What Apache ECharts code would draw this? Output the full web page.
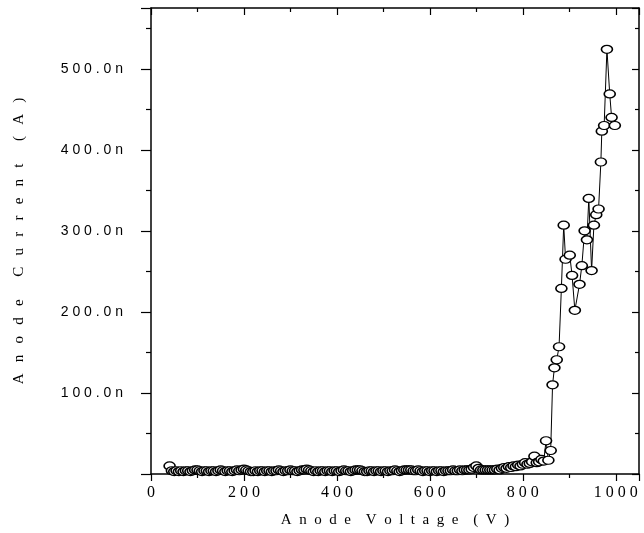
<!DOCTYPE html>
<html>
<head>
<meta charset="utf-8">
<script src="https://cdn.jsdelivr.net/npm/echarts@6/dist/echarts.min.js"></script>
<style>
  html, body { margin: 0; padding: 0; background: #fff; }
  #chart { width: 644px; height: 533px; }
</style>
</head>
<body>
<div id="chart"></div>
<script>
// anode voltage (V)
var voltage = [
    40, 45, 50, 55, 60, 65, 70, 75, 80, 85,
    90, 95, 100, 105, 110, 115, 120, 125, 130, 135,
    140, 145, 150, 155, 160, 165, 170, 175, 180, 185,
    190, 195, 200, 205, 210, 215, 220, 225, 230, 235,
    240, 245, 250, 255, 260, 265, 270, 275, 280, 285,
    290, 295, 300, 305, 310, 315, 320, 325, 330, 335,
    340, 345, 350, 355, 360, 365, 370, 375, 380, 385,
    390, 395, 400, 405, 410, 415, 420, 425, 430, 435,
    440, 445, 450, 455, 460, 465, 470, 475, 480, 485,
    490, 495, 500, 505, 510, 515, 520, 525, 530, 535,
    540, 545, 550, 555, 560, 565, 570, 575, 580, 585,
    590, 595, 600, 605, 610, 615, 620, 625, 630, 635,
    640, 645, 650, 655, 660, 665, 670, 675, 680, 685,
    690, 695, 700, 705, 710, 715, 720, 725, 730, 735,
    740, 745, 750, 755, 760, 765, 770, 775, 780, 785,
    790, 795, 800, 805, 810, 815, 820, 825, 830, 835,
    840, 845,
    850, 855, 860, 864, 868, 873, 878, 883, 888, 892,
    901, 906, 912, 922, 927, 933, 938, 942, 948, 953,
    958, 963, 968, 970, 975, 981, 987, 991, 998
];

// anode current (nA)
var current = [
    10, 4, 3, 4, 3, 4, 3, 4, 4, 3,
    4, 5, 5, 4, 3, 4, 4, 3, 4, 4,
    3, 4, 5, 4, 3, 4, 4, 3, 4, 5,
    4, 5, 6, 5, 4, 3, 3, 4, 3, 4,
    4, 3, 4, 4, 3, 4, 4, 5, 4, 3,
    4, 4, 5, 4, 4, 3, 4, 5, 5, 6,
    5, 4, 3, 4, 3, 4, 4, 3, 4, 4,
    3, 4, 4, 3, 4, 5, 4, 4, 3, 4,
    5, 5, 5, 4, 3, 3, 4, 4, 3, 4,
    4, 3, 4, 4, 3, 4, 4, 5, 4, 3,
    4, 5, 5, 5, 5, 4, 4, 5, 4, 3,
    4, 4, 3, 4, 4, 3, 4, 4, 3, 4,
    4, 4, 5, 4, 4, 5, 4, 5, 5, 5,
    6, 8, 10, 7, 5, 5, 5, 5, 5, 5,
    5, 6, 5, 7, 8, 7, 9, 8, 10, 9,
    11, 10, 12, 14, 12, 13, 15, 22, 14, 15,
    18, 16,
    41, 17, 29, 110, 131, 141, 157, 229, 307, 265,
    270, 245, 202, 234, 257, 300, 289, 340, 251, 307,
    320, 327, 385, 423, 430, 524, 469, 440, 430
];

var xTicks = [0, 200, 400, 600, 800, 1000];
var yTicks = [100, 200, 300, 400, 500];

var serif = '"Liberation Serif", "Times New Roman", serif';
var sans = '"Liberation Sans", Arial, sans-serif';

function spaced(s, gap) {
    return s.split('').join(gap);
}

var chart = echarts.init(document.getElementById('chart'));

var points = voltage.map(function(v, i) { return [v, current[i]]; });

var tickLine = { color: '#000', width: 1.2 };
var frameLine = { color: '#000', width: 1.5 };

var option = {
    animation: false,
    backgroundColor: '#fff',
    grid: {
        left: 151,
        right: 5,
        top: 8,
        bottom: 55
    },
    xAxis: [{
        type: 'value',
        position: 'bottom',
        min: 0,
        max: 1050,
        interval: 200,
        name: spaced('Anode', '  ') + '    ' + spaced('Voltage', '  ') + '    ' + spaced('(V)', '  '),
        nameLocation: 'middle',
        nameGap: 39,
        nameTextStyle: { fontFamily: serif, fontSize: 15, color: '#000' },
        axisLine: { onZero: false, lineStyle: frameLine },
        axisTick: { inside: false, length: 7, lineStyle: tickLine },
        minorTick: { show: true, splitNumber: 2, length: 4, lineStyle: tickLine },
        axisLabel: {
            margin: 11,
            fontFamily: serif,
            fontSize: 16,
            color: '#000',
            formatter: function(v) {
                return xTicks.indexOf(v) >= 0 ? spaced(String(v), ' ') : '';
            }
        },
        splitLine: { show: false }
    }, {
        type: 'value',
        position: 'top',
        min: 0,
        max: 1050,
        interval: 200,
        axisLine: { show: true, onZero: false, lineStyle: frameLine },
        axisTick: { show: true, inside: true, length: 7, lineStyle: tickLine },
        minorTick: { show: true, splitNumber: 2, length: 4, lineStyle: tickLine },
        axisLabel: { show: false },
        splitLine: { show: false }
    }],
    yAxis: [{
        type: 'value',
        position: 'left',
        min: 0,
        max: 575,
        interval: 100,
        name: spaced('Anode', '   ') + '      ' + spaced('Current', '   ') + '      ' + spaced('(A)', '   '),
        nameLocation: 'middle',
        nameGap: 124,
        nameRotate: 90,
        nameTextStyle: { fontFamily: serif, fontSize: 15, color: '#000' },
        axisLine: { onZero: false, lineStyle: frameLine },
        axisTick: { inside: false, length: 10, lineStyle: tickLine },
        minorTick: { show: true, splitNumber: 2, length: 5, lineStyle: tickLine },
        axisLabel: {
            margin: 28,
            fontFamily: sans,
            fontSize: 14,
            color: '#000',
            formatter: function(v) {
                return yTicks.indexOf(v) >= 0 ? spaced(v + '.0n', ' ') : '';
            }
        },
        splitLine: { show: false }
    }, {
        type: 'value',
        position: 'right',
        min: 0,
        max: 575,
        interval: 100,
        axisLine: { show: true, onZero: false, lineStyle: frameLine },
        axisTick: { show: true, inside: true, length: 7, lineStyle: tickLine },
        minorTick: { show: true, splitNumber: 2, length: 4, lineStyle: tickLine },
        axisLabel: { show: false },
        splitLine: { show: false }
    }],
    series: [{
        type: 'line',
        xAxisIndex: 0,
        yAxisIndex: 0,
        data: points,
        symbol: 'circle',
        symbolSize: [11, 8],
        showAllSymbol: true,
        itemStyle: {
            color: '#fff',
            borderColor: '#000',
            borderWidth: 1.4
        },
        lineStyle: {
            color: '#000',
            width: 1
        }
    }]
};

chart.setOption(option);
</script>
</body>
</html>
